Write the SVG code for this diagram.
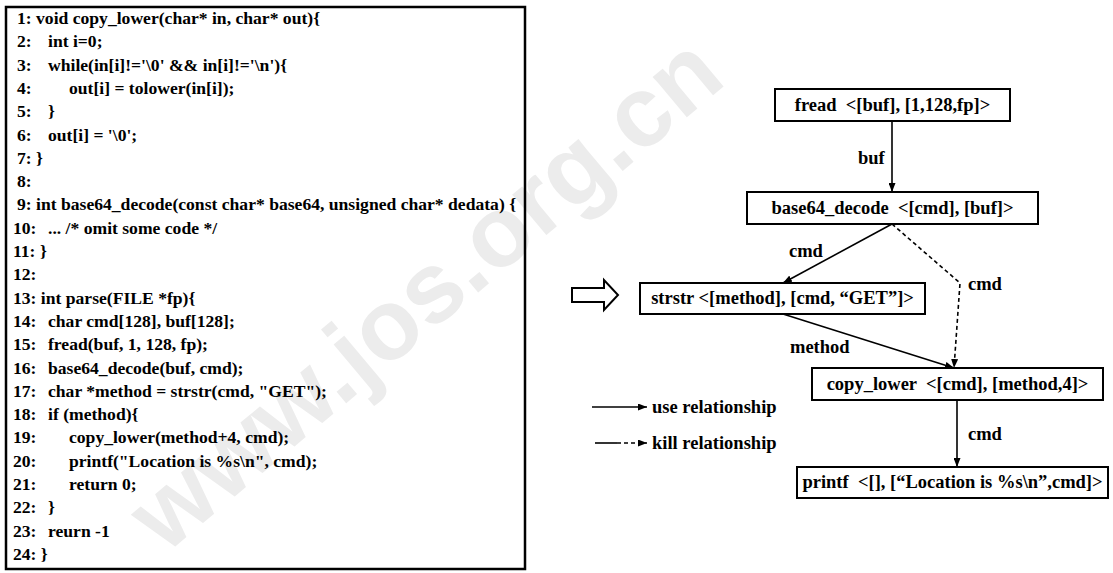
<svg xmlns="http://www.w3.org/2000/svg" width="1113" height="573" viewBox="0 0 1113 573">
<style>
.code{font-family:"Liberation Serif","Times New Roman",serif;font-weight:bold;font-size:17.6px;fill:#000;white-space:pre}
.nt{font-family:"Liberation Serif","Times New Roman",serif;font-weight:bold;font-size:18.5px;fill:#000;text-anchor:middle;white-space:pre}
.lbl{font-family:"Liberation Serif","Times New Roman",serif;font-weight:bold;font-size:18.5px;fill:#000}
.box{fill:#fff;stroke:#000;stroke-width:2}
.edge{fill:none;stroke:#000;stroke-width:1.6}
.dash{stroke-dasharray:4 3}
.wm{font-family:"Liberation Sans",Arial,sans-serif;font-weight:bold;font-size:100px;fill:#ececec}
</style>
<defs>
<marker id="ah" markerUnits="userSpaceOnUse" markerWidth="9" markerHeight="7" refX="9" refY="3.5" orient="auto">
<path d="M0,0 L9,3.5 L0,7 z" fill="#000"/>
</marker>
</defs>
<rect width="1113" height="573" fill="#fff"/>
<text class="wm" transform="translate(165,555) rotate(-40)">www.jos.org.cn</text>

<g id="code">
<rect x="6" y="7" width="519" height="562" fill="none" stroke="#000" stroke-width="2.5"/>
<g class="code">
<text x="17" y="24">1: void copy_lower(char* in, char* out){</text>
<text x="17" y="47.3">2:</text><text x="48" y="47.3">int i=0;</text>
<text x="17" y="70.6">3:</text><text x="48" y="70.6">while(in[i]!='\0' &amp;&amp; in[i]!='\n'){</text>
<text x="17" y="93.9">4:</text><text x="69" y="93.9">out[i] = tolower(in[i]);</text>
<text x="17" y="117.2">5:</text><text x="48" y="117.2">}</text>
<text x="17" y="140.5">6:</text><text x="48" y="140.5">out[i] = '\0';</text>
<text x="17" y="163.8">7: }</text>
<text x="17" y="187.1">8:</text>
<text x="17" y="210.4">9: int base64_decode(const char* base64, unsigned char* dedata) {</text>
<text x="13" y="233.7">10:</text><text x="48" y="233.7">... /* omit some code */</text>
<text x="13" y="257">11: }</text>
<text x="13" y="280.3">12:</text>
<text x="13" y="303.6">13: int parse(FILE *fp){</text>
<text x="13" y="326.9">14:</text><text x="48" y="326.9">char cmd[128], buf[128];</text>
<text x="13" y="350.2">15:</text><text x="48" y="350.2">fread(buf, 1, 128, fp);</text>
<text x="13" y="373.5">16:</text><text x="48" y="373.5">base64_decode(buf, cmd);</text>
<text x="13" y="396.8">17:</text><text x="48" y="396.8">char *method = strstr(cmd, "GET");</text>
<text x="13" y="420.1">18:</text><text x="48" y="420.1">if (method){</text>
<text x="13" y="443.4">19:</text><text x="69" y="443.4">copy_lower(method+4, cmd);</text>
<text x="13" y="466.7">20:</text><text x="69" y="466.7">printf("Location is %s\n", cmd);</text>
<text x="13" y="490">21:</text><text x="69" y="490">return 0;</text>
<text x="13" y="513.3">22:</text><text x="48" y="513.3">}</text>
<text x="13" y="536.6">23:</text><text x="48" y="536.6">reurn -1</text>
<text x="13" y="559.9">24: }</text>
</g>
</g>

<g id="transform-arrow">
<path d="M572,288 H604 V280 L618,295 L604,310 V302 H572 Z" fill="#fff" stroke="#000" stroke-width="2"/>
</g>

<g id="connectors">
<path class="edge" d="M892,121 V192" marker-end="url(#ah)"/>
<text class="lbl" x="858" y="164">buf</text>
<path class="edge" d="M892,224 L783,283" marker-end="url(#ah)"/>
<text class="lbl" x="789" y="257">cmd</text>
<path class="edge dash" d="M892,224 L960,283 L954,368" marker-end="url(#ah)"/>
<text class="lbl" x="968" y="290">cmd</text>
<path class="edge" d="M783,314 L954,368" marker-end="url(#ah)"/>
<text class="lbl" x="790" y="353">method</text>
<path class="edge" d="M957,400 V467" marker-end="url(#ah)"/>
<text class="lbl" x="968" y="440">cmd</text>
</g>

<g id="n-fread"><rect class="box" x="775" y="89" width="235" height="32"/><text class="nt" x="892.5" y="111">fread  &lt;[buf], [1,128,fp]&gt;</text></g>
<g id="n-base64"><rect class="box" x="747" y="192" width="291" height="32"/><text class="nt" x="892.5" y="214">base64_decode  &lt;[cmd], [buf]&gt;</text></g>
<g id="n-strstr"><rect class="box" x="640" y="283" width="285" height="31"/><text class="nt" x="782.5" y="304">strstr &lt;[method], [cmd, “GET”]&gt;</text></g>
<g id="n-copy"><rect class="box" x="812" y="368" width="291" height="32"/><text class="nt" x="957.5" y="390">copy_lower  &lt;[cmd], [method,4]&gt;</text></g>
<g id="n-printf"><rect class="box" x="797" y="467" width="311" height="31"/><text class="nt" x="952.5" y="488">printf  &lt;[], [“Location is %s\n”,cmd]&gt;</text></g>

<g id="legend">
<path class="edge" d="M592,407 H647" marker-end="url(#ah)"/>
<text class="lbl" x="652" y="413">use relationship</text>
<path class="edge" d="M595,443 H617"/>
<path class="edge dash" d="M617,443 H647" marker-end="url(#ah)"/>
<text class="lbl" x="652" y="449">kill relationship</text>
</g>
</svg>
